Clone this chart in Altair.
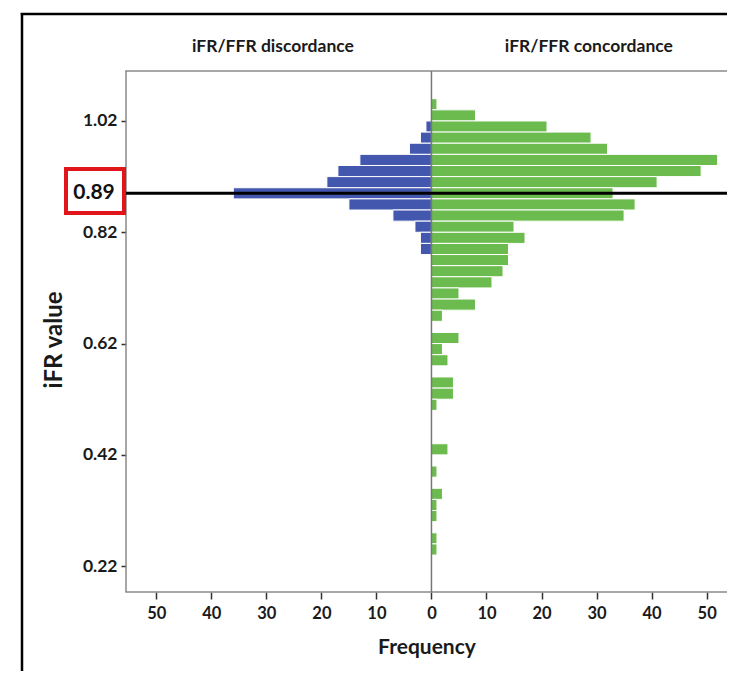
import altair as alt
import pandas as pd

# ---- data ----
# bin centres (iFR value), bin width 0.02
conc_centers = [1.05, 1.03, 1.01, 0.99, 0.97, 0.95, 0.93, 0.91, 0.89, 0.87, 0.85,
                0.83, 0.81, 0.79, 0.77, 0.75, 0.73, 0.71, 0.69, 0.67, 0.65, 0.63,
                0.61, 0.59, 0.57, 0.55, 0.53, 0.51, 0.49, 0.47, 0.45, 0.43, 0.41,
                0.39, 0.37, 0.35, 0.33, 0.31, 0.29, 0.27, 0.25]
conc_counts = [1, 8, 21, 29, 32, 52, 49, 41, 33, 37, 35,
               15, 17, 14, 14, 13, 11, 5, 8, 2, 0, 5,
               2, 3, 0, 4, 4, 1, 0, 0, 0, 3, 0,
               1, 0, 2, 1, 1, 0, 1, 1]
disc_centers = [1.01, 0.99, 0.97, 0.95, 0.93, 0.91, 0.89, 0.87, 0.85, 0.83, 0.81, 0.79]
disc_counts = [1, 2, 4, 13, 17, 19, 36, 15, 7, 3, 2, 2]

groups = ["iFR/FFR discordance", "iFR/FFR concordance"]
group_colors = ["#4357AE", "#6BBB4E"]
y_ticks = [0.22, 0.42, 0.62, 0.82, 1.02]
x_ticks = [-50, -40, -30, -20, -10, 0, 10, 20, 30, 40, 50]
cutoff = 0.89
half_bin = 0.01

rows = []
for c, n in zip(disc_centers, disc_counts):
    if n > 0:
        rows.append({"group": groups[0], "lo": c - half_bin, "hi": c + half_bin,
                     "start": 0, "value": -n})
for c, n in zip(conc_centers, conc_counts):
    if n > 0:
        rows.append({"group": groups[1], "lo": c - half_bin, "hi": c + half_bin,
                     "start": 0, "value": n})
df = pd.DataFrame(rows)
one = pd.DataFrame({"k": [0]})

FONT = "Lato"
TXT = "#1a1a1a"
BORDER = "#8a8a8a"

xscale = alt.Scale(domain=[-55.5, 53.7], nice=False, zero=False)
yscale = alt.Scale(domain=[0.1736, 1.1098], nice=False, zero=False)

bars = alt.Chart(df).mark_rect(stroke="white", strokeWidth=1).encode(
    x=alt.X("start:Q", scale=xscale,
            axis=alt.Axis(values=x_ticks, labelExpr="abs(datum.value)",
                          title="Frequency", titleFont=FONT, titleFontSize=21,
                          titleFontWeight="bold", titleColor=TXT, titlePadding=15,
                          labelFont=FONT, labelFontSize=16.5, labelFontWeight="bold",
                          labelColor=TXT, labelPadding=6, tickSize=7,
                          tickColor="#333", tickWidth=1.5, domain=False, grid=False)),
    x2="value:Q",
    y=alt.Y("lo:Q", scale=yscale,
            axis=alt.Axis(values=y_ticks, format=".2f", title=None,
                          labelFont=FONT, labelFontSize=17.5, labelFontWeight="bold",
                          labelColor=TXT, labelPadding=4, tickSize=5,
                          tickColor="#333", tickWidth=1.5, domain=False, grid=False)),
    y2="hi:Q",
    color=alt.Color("group:N", scale=alt.Scale(domain=groups, range=group_colors),
                    legend=None),
)

# plot-area border (left, top, bottom; the right side runs off the picture)
border_top = alt.Chart(one).mark_rect(color=BORDER).encode(
    x=alt.value(-0.75), x2=alt.value(601), y=alt.value(-0.75), y2=alt.value(0.75))
border_bottom = alt.Chart(one).mark_rect(color=BORDER).encode(
    x=alt.value(-0.75), x2=alt.value(601), y=alt.value(520.25), y2=alt.value(521.75))
border_left = alt.Chart(one).mark_rect(color=BORDER).encode(
    x=alt.value(-0.75), x2=alt.value(0.75), y=alt.value(0), y2=alt.value(521))

center_line = alt.Chart(one).mark_rule(color="#777777", strokeWidth=1.5).encode(
    x=alt.datum(0))

cut_line = alt.Chart(one).mark_rule(color="black", strokeWidth=3).encode(
    y=alt.datum(cutoff))

header_left = alt.Chart(pd.DataFrame({"label": [groups[0]]})).mark_text(
    font=FONT, fontSize=17.5, fontWeight="bold", color=TXT, baseline="middle").encode(
    x=alt.datum(-28.8), y=alt.value(-24), text="label:N")
header_right = alt.Chart(pd.DataFrame({"label": [groups[1]]})).mark_text(
    font=FONT, fontSize=17.5, fontWeight="bold", color=TXT, baseline="middle").encode(
    x=alt.datum(28.6), y=alt.value(-24), text="label:N")

cut_box = alt.Chart(one).mark_rect(fill="white", fillOpacity=0, stroke="#E0161B",
                                   strokeWidth=4).encode(
    x=alt.value(-60), x2=alt.value(-2), y=alt.value(98), y2=alt.value(142))
cut_label = alt.Chart(pd.DataFrame({"label": ["0.89"]})).mark_text(
    font=FONT, fontSize=21, fontWeight="bold", color="#111", baseline="middle").encode(
    x=alt.value(-32), y=alt.datum(cutoff), text="label:N")

y_title = alt.Chart(pd.DataFrame({"label": ["iFR value"]})).mark_text(
    font=FONT, fontSize=24, fontWeight="bold", color=TXT, angle=270,
    baseline="middle").encode(
    x=alt.value(-71), y=alt.value(269), text="label:N")

# outer black frame: top and left edges (kept inside the drawing area)
frame_top = alt.Chart(one).mark_rect(color="black").encode(
    x=alt.value(-105.25), x2=alt.value(601), y=alt.value(-58.25), y2=alt.value(-55.75))
frame_left = alt.Chart(one).mark_rect(color="black").encode(
    x=alt.value(-105.25), x2=alt.value(-102.75), y=alt.value(-58), y2=alt.value(600))

chart = alt.layer(
    bars, border_top, border_bottom, border_left, center_line, cut_line,
    header_left, header_right, cut_box, cut_label, y_title, frame_top, frame_left
).properties(
    width=601, height=521,
    autosize=alt.AutoSizeParams(type="none"),
    padding={"left": 118, "top": 63, "right": 0, "bottom": 81},
    background="white",
).configure_view(strokeWidth=0)

chart.save("out.html", embed_options={"renderer": "svg", "actions": False})
